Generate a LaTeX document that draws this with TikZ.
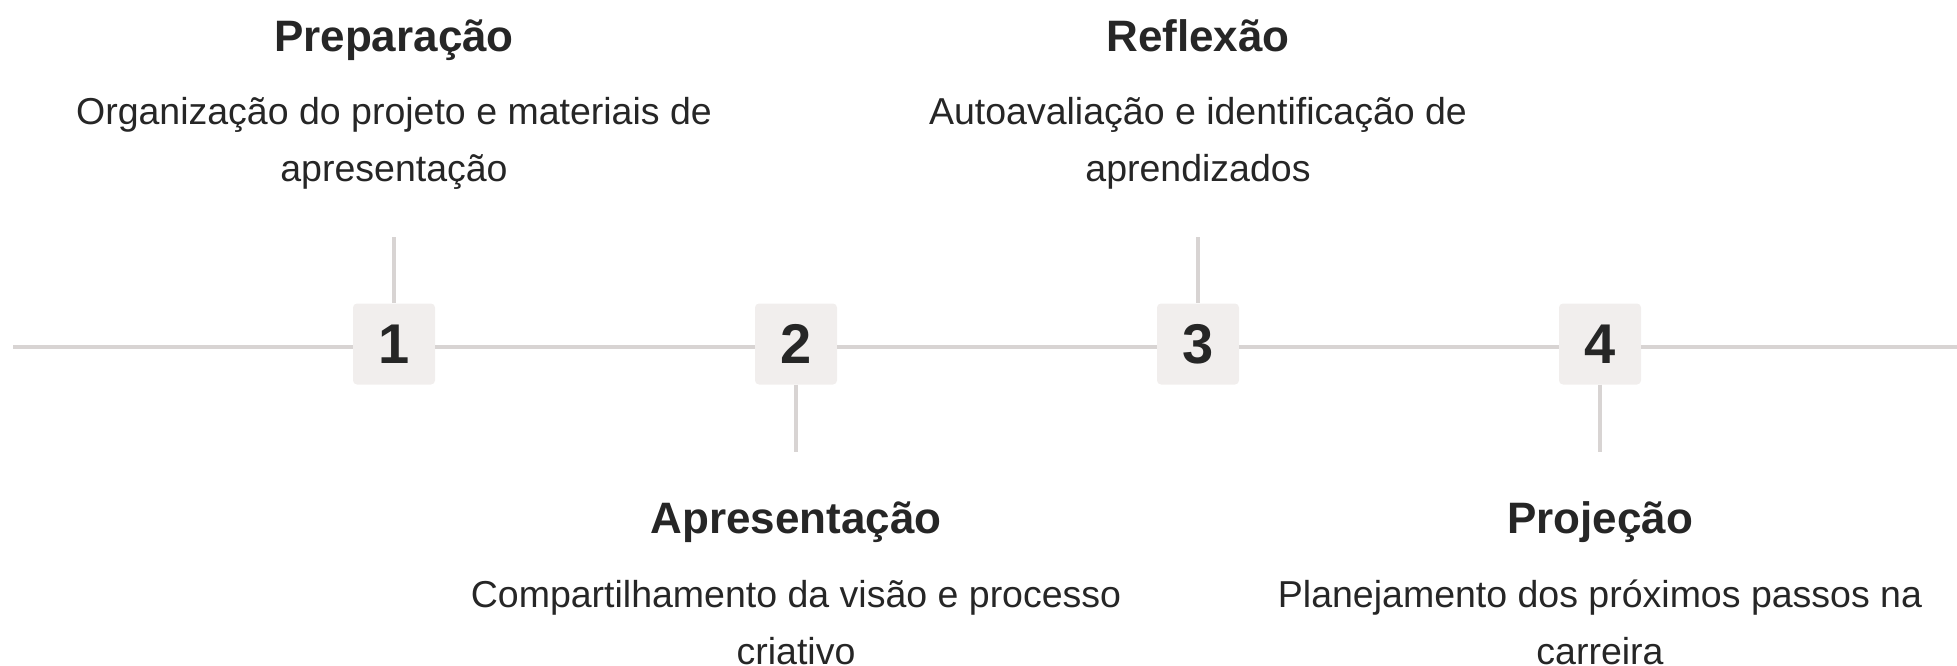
\documentclass[tikz,border=0pt]{standalone}
\usepackage{fontspec}
\setmainfont{Liberation Sans}
\definecolor{ink}{HTML}{262626}
\definecolor{rail}{HTML}{D8D4D3}
\definecolor{boxfill}{HTML}{F1EEED}
\tikzset{
  numbox/.style={fill=boxfill, rounded corners=4pt, minimum width=82pt, minimum height=81pt, inner sep=0pt, text=ink, font=\fontsize{56}{60}\selectfont\bfseries},
  railline/.style={draw=rail, line width=4pt},
  tickline/.style={draw=rail, line width=3.3pt},
  title/.style={anchor=base, inner sep=0pt, text=ink, font=\fontsize{44}{50}\selectfont\bfseries},
  desc/.style={anchor=base, inner sep=0pt, text=ink, align=center, font=\fontsize{37.5}{57}\selectfont},
}
\begin{document}
\begin{tikzpicture}[x=1pt,y=-1pt]
\useasboundingbox (0,0) rectangle (1957,666);
% rail ends
\coordinate (L) at (13,347);
\coordinate (R) at (1957,347);
% numbered boxes
\node[numbox] (b1) at (394,344) {1};
\node[numbox] (b2) at (796,344) {2};
\node[numbox] (b3) at (1198,344) {3};
\node[numbox] (b4) at (1600,344) {4};
% rail
\draw[railline] (L) -- (L -| b1.west);
\draw[railline] (L -| b1.east) -- (L -| b2.west);
\draw[railline] (L -| b2.east) -- (L -| b3.west);
\draw[railline] (L -| b3.east) -- (L -| b4.west);
\draw[railline] (L -| b4.east) -- (R);
% tick ends
\coordinate (t1) at (394,237);
\coordinate (t2) at (796,452);
\coordinate (t3) at (1198,237);
\coordinate (t4) at (1600,452);
\draw[tickline] (t1) -- (b1.north);
\draw[tickline] (b2.south) -- (t2);
\draw[tickline] (t3) -- (b3.north);
\draw[tickline] (b4.south) -- (t4);
% titles
\node[title] (h1) at (394,52) {Preparação};
\node[title] (h2) at (796,533) {Apresentação};
\node[title] (h3) at (1198,52) {Reflexão};
\node[title] (h4) at (1600,533) {Projeção};
% descriptions (base = baseline of the last line)
\node[desc] (d1) at (394,182) {Organização do projeto e materiais de\\apresentação};
\node[desc] (d2) at (796,664) {Compartilhamento da visão e processo\\criativo};
\node[desc] (d3) at (1198,182) {Autoavaliação e identificação de\\aprendizados};
\node[desc] (d4) at (1600,664) {Planejamento dos próximos passos na\\carreira};
\end{tikzpicture}
\end{document}
